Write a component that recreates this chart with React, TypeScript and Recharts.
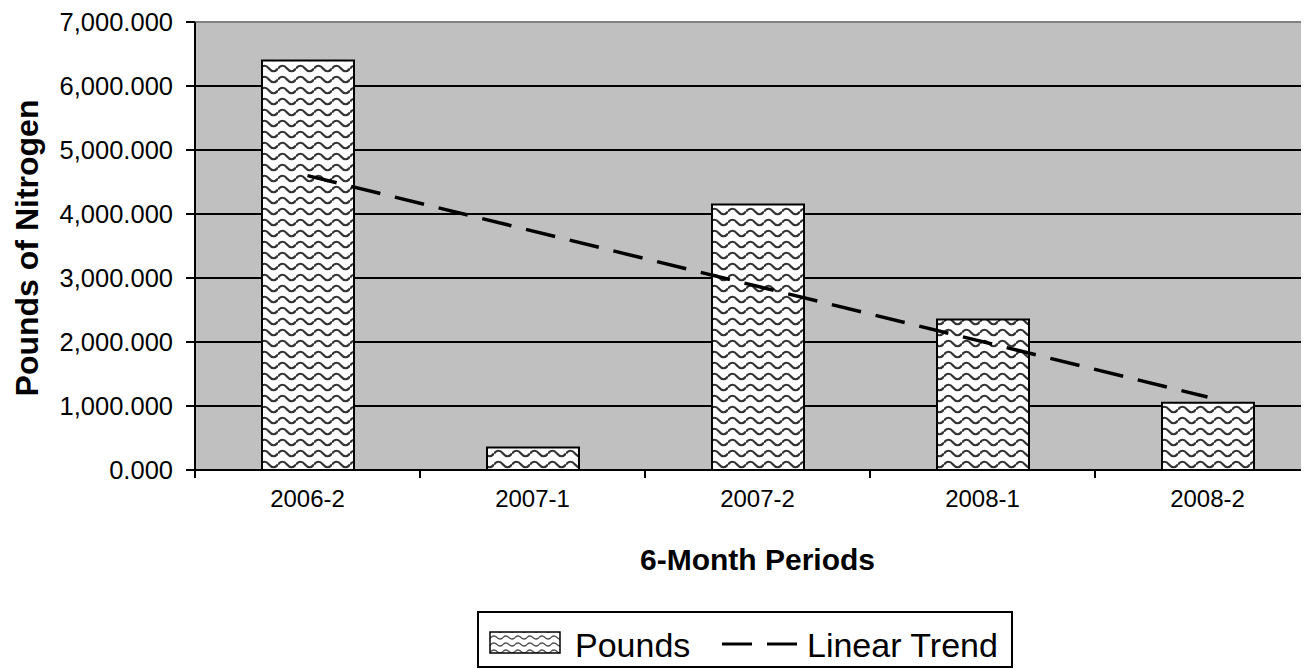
import React from 'react';
import { ComposedChart, Bar, Line, XAxis, YAxis, CartesianGrid, ReferenceLine } from 'recharts';

const categories = ['2006-2', '2007-1', '2007-2', '2008-1', '2008-2'];
const pounds = [6400, 350, 4150, 2350, 1050];
const trend: (number | null)[] = [4600, null, null, null, 1140];
const yTicks = [0, 1000, 2000, 3000, 4000, 5000, 6000, 7000];

const data = categories.map((c, i) => ({ period: c, pounds: pounds[i], trend: trend[i] }));

const CHART_W = 1320;
const CHART_H = 661;
const MARGIN = { top: 14, right: 8, bottom: 0, left: 0 };
const Y_W = 187;
const HALF_BAND = (CHART_W - MARGIN.left - MARGIN.right - Y_W) / categories.length / 2;
const FONT = '"Liberation Sans", Arial, sans-serif';

const fmt = (v: number) =>
  v.toLocaleString('en-US', { minimumFractionDigits: 3, maximumFractionDigits: 3 });

function XTick(props: any) {
  const { x, y, payload } = props;
  return (
    <g>
      <line x1={x - HALF_BAND} x2={x - HALF_BAND} y1={y} y2={y + 8} stroke="#000" strokeWidth={2} />
      <text x={x} y={y + 37} textAnchor="middle" fontSize={24} fill="#000" fontFamily={FONT}>
        {payload.value}
      </text>
    </g>
  );
}

export default function App() {
  return (
    <div style={{ position: 'relative', width: 1301, height: 661, overflow: 'hidden', fontFamily: FONT }}>
      <ComposedChart width={CHART_W} height={CHART_H} data={data} margin={MARGIN}>
        <defs>
          <pattern id="wave" width={18} height={11} patternUnits="userSpaceOnUse">
            <rect width={18} height={11} fill="#fff" />
            <path d="M0,5.5 Q4.5,0 9,5.5 T18,5.5" fill="none" stroke="#333" strokeWidth={2.2} />
          </pattern>
        </defs>
        <CartesianGrid vertical={false} stroke="#000" strokeWidth={2} fill="#C0C0C0" fillOpacity={1} />
        <XAxis
          dataKey="period"
          height={CHART_H - 462 - MARGIN.bottom}
          axisLine={{ stroke: '#000', strokeWidth: 2 }}
          tickLine={false}
          tickSize={0}
          tickMargin={0}
          interval={0}
          tick={<XTick />}
          label={{
            content: (p: any) => (
              <text
                x={p.viewBox.x + p.viewBox.width / 2}
                y={p.viewBox.y + 100}
                textAnchor="middle"
                fontSize={30}
                fontWeight="bold"
                fill="#000"
                fontFamily={FONT}
              >
                6-Month Periods
              </text>
            ),
          }}
        />
        <YAxis
          width={Y_W}
          domain={[0, 7000]}
          ticks={yTicks}
          interval={0}
          tickFormatter={fmt}
          tickSize={9}
          tickMargin={13}
          axisLine={{ stroke: '#000', strokeWidth: 2 }}
          tickLine={{ stroke: '#000', strokeWidth: 2 }}
          tick={{ fill: '#000', fontSize: 25.5, fontFamily: FONT }}
          label={{
            content: (p: any) => {
              const cy = p.viewBox.y + p.viewBox.height / 2 + 2;
              return (
                <text
                  x={30}
                  y={cy}
                  transform={`rotate(-90, 30, ${cy})`}
                  textAnchor="middle"
                  fontSize={32}
                  fontWeight="bold"
                  fill="#000"
                  fontFamily={FONT}
                >
                  Pounds of Nitrogen
                </text>
              );
            },
          }}
        />
        <ReferenceLine y={7000} stroke="#808080" strokeWidth={2} />
        <Bar dataKey="pounds" fill="url(#wave)" stroke="#000" strokeWidth={2} barSize={92} isAnimationActive={false} />
        <Line
          dataKey="trend"
          type="linear"
          stroke="#000"
          strokeWidth={3.5}
          strokeDasharray="30 15"
          dot={false}
          activeDot={false}
          connectNulls
          isAnimationActive={false}
        />
      </ComposedChart>
      <div
        style={{
          position: 'absolute',
          left: 469,
          top: 603,
          width: 536,
          height: 57,
          boxSizing: 'border-box',
          border: '2px solid #000',
          background: '#fff',
        }}
      >
        <svg width={532} height={53} style={{ display: 'block' }}>
          <defs>
            <pattern id="waveSmall" width={12} height={7} patternUnits="userSpaceOnUse">
              <rect width={12} height={7} fill="#fff" />
              <path d="M0,3.5 Q3,0.5 6,3.5 T12,3.5" fill="none" stroke="#505050" strokeWidth={1.3} />
            </pattern>
          </defs>
          <rect x={11} y={19} width={70} height={21} fill="url(#waveSmall)" stroke="#000" strokeWidth={1.5} />
          <text x={96} y={44} fontSize={34} fill="#000" fontFamily={FONT}>Pounds</text>
          <line x1={243} x2={273} y1={31} y2={31} stroke="#000" strokeWidth={3} />
          <line x1={288} x2={318} y1={31} y2={31} stroke="#000" strokeWidth={3} />
          <text x={328} y={44} fontSize={34} fill="#000" fontFamily={FONT}>Linear Trend</text>
        </svg>
      </div>
    </div>
  );
}
